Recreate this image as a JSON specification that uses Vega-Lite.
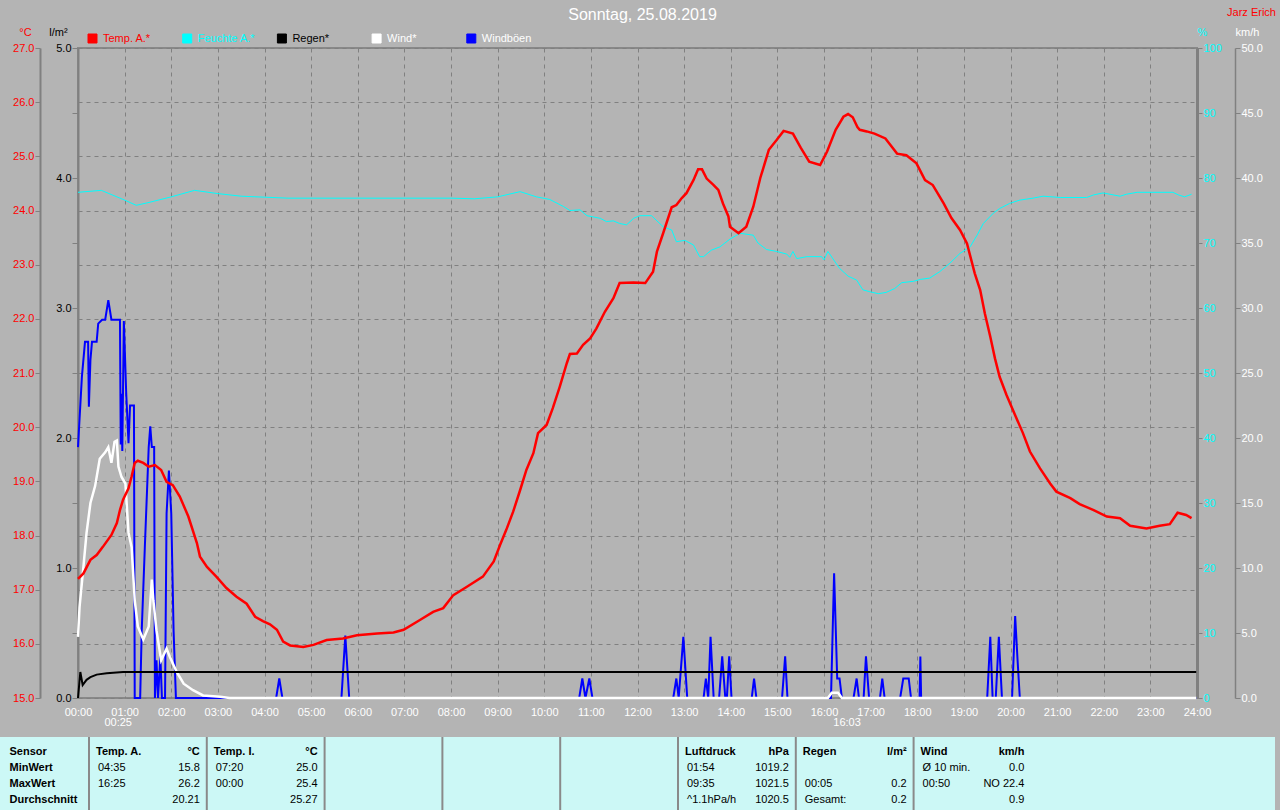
{
  "$schema": "https://vega.github.io/schema/vega-lite/v6.json",
  "autosize": {"type": "none"},
  "padding": {"left": 0, "top": 48, "right": 1280, "bottom": 762},
  "background": "#b4b4b4",
  "bounds": "flush",
  "center": true,
  "spacing": 39,
  "title": {"text": "Sonntag, 25.08.2019", "color": "#ffffff", "fontSize": 16, "fontWeight": "normal", "font": "Liberation Sans", "anchor": "middle", "frame": "bounds", "dx": 4, "dy": 17, "offset": 0},
  "config": {
    "font": "Liberation Sans",
    "axis": {"labelFont": "Liberation Sans", "labelFontSize": 11, "titleFont": "Liberation Sans", "titleFontSize": 11, "titleFontWeight": "normal", "tickColor": "#808080", "domainColor": "#808080", "gridColor": "#808080", "gridDash": [4, 4], "gridOpacity": 1, "labelOverlap": false, "labelPadding": 1, "labelFlush": false},
    "text": {"font": "Liberation Sans"}
  },
  "datasets": {
    "temp": [{"t":"00:00","v":17.2},{"t":"00:07","v":17.3},{"t":"00:16","v":17.55},{"t":"00:24","v":17.64},{"t":"00:32","v":17.79},{"t":"00:43","v":18.01},{"t":"00:50","v":18.23},{"t":"00:54","v":18.47},{"t":"00:58","v":18.66},{"t":"01:05","v":18.87},{"t":"01:09","v":19.09},{"t":"01:13","v":19.34},{"t":"01:17","v":19.38},{"t":"01:24","v":19.34},{"t":"01:31","v":19.27},{"t":"01:39","v":19.3},{"t":"01:47","v":19.21},{"t":"01:54","v":18.99},{"t":"02:02","v":18.93},{"t":"02:11","v":18.72},{"t":"02:22","v":18.35},{"t":"02:33","v":17.86},{"t":"02:37","v":17.61},{"t":"02:46","v":17.42},{"t":"02:58","v":17.24},{"t":"03:11","v":17.03},{"t":"03:24","v":16.87},{"t":"03:37","v":16.74},{"t":"03:48","v":16.5},{"t":"03:58","v":16.42},{"t":"04:07","v":16.36},{"t":"04:16","v":16.26},{"t":"04:24","v":16.04},{"t":"04:33","v":15.97},{"t":"04:50","v":15.94},{"t":"05:03","v":15.98},{"t":"05:20","v":16.07},{"t":"05:41","v":16.1},{"t":"05:59","v":16.16},{"t":"06:25","v":16.19},{"t":"06:46","v":16.21},{"t":"06:59","v":16.26},{"t":"07:20","v":16.44},{"t":"07:37","v":16.59},{"t":"07:50","v":16.66},{"t":"08:03","v":16.9},{"t":"08:20","v":17.05},{"t":"08:41","v":17.24},{"t":"08:55","v":17.52},{"t":"09:03","v":17.82},{"t":"09:11","v":18.1},{"t":"09:20","v":18.44},{"t":"09:29","v":18.84},{"t":"09:37","v":19.21},{"t":"09:46","v":19.52},{"t":"09:52","v":19.89},{"t":"10:03","v":20.04},{"t":"10:11","v":20.35},{"t":"10:20","v":20.75},{"t":"10:29","v":21.18},{"t":"10:33","v":21.35},{"t":"10:42","v":21.36},{"t":"10:50","v":21.52},{"t":"10:59","v":21.64},{"t":"11:07","v":21.82},{"t":"11:18","v":22.13},{"t":"11:29","v":22.38},{"t":"11:37","v":22.66},{"t":"11:55","v":22.67},{"t":"12:10","v":22.66},{"t":"12:20","v":22.87},{"t":"12:25","v":23.24},{"t":"12:33","v":23.58},{"t":"12:44","v":24.06},{"t":"12:50","v":24.1},{"t":"12:57","v":24.23},{"t":"13:03","v":24.32},{"t":"13:12","v":24.56},{"t":"13:18","v":24.76},{"t":"13:23","v":24.76},{"t":"13:29","v":24.59},{"t":"13:38","v":24.47},{"t":"13:44","v":24.38},{"t":"13:50","v":24.13},{"t":"13:57","v":23.89},{"t":"13:59","v":23.7},{"t":"14:10","v":23.58},{"t":"14:20","v":23.7},{"t":"14:29","v":24.07},{"t":"14:38","v":24.6},{"t":"14:49","v":25.12},{"t":"14:59","v":25.3},{"t":"15:08","v":25.47},{"t":"15:20","v":25.42},{"t":"15:30","v":25.16},{"t":"15:41","v":24.9},{"t":"15:55","v":24.84},{"t":"16:04","v":25.09},{"t":"16:15","v":25.49},{"t":"16:25","v":25.73},{"t":"16:31","v":25.78},{"t":"16:37","v":25.72},{"t":"16:43","v":25.54},{"t":"16:46","v":25.49},{"t":"16:55","v":25.46},{"t":"17:05","v":25.42},{"t":"17:19","v":25.33},{"t":"17:27","v":25.18},{"t":"17:34","v":25.05},{"t":"17:46","v":25.02},{"t":"17:59","v":24.87},{"t":"18:10","v":24.56},{"t":"18:20","v":24.47},{"t":"18:34","v":24.13},{"t":"18:44","v":23.86},{"t":"18:55","v":23.64},{"t":"19:04","v":23.39},{"t":"19:14","v":22.84},{"t":"19:21","v":22.53},{"t":"19:27","v":22.1},{"t":"19:34","v":21.67},{"t":"19:40","v":21.27},{"t":"19:46","v":20.93},{"t":"19:55","v":20.59},{"t":"20:06","v":20.22},{"t":"20:16","v":19.89},{"t":"20:25","v":19.55},{"t":"20:38","v":19.24},{"t":"20:51","v":18.96},{"t":"20:59","v":18.81},{"t":"21:17","v":18.69},{"t":"21:29","v":18.58},{"t":"21:47","v":18.47},{"t":"22:04","v":18.35},{"t":"22:21","v":18.32},{"t":"22:34","v":18.18},{"t":"22:55","v":18.13},{"t":"23:12","v":18.18},{"t":"23:25","v":18.21},{"t":"23:35","v":18.42},{"t":"23:46","v":18.38},{"t":"23:53","v":18.32}],
    "hum": [{"t":"00:00","v":77.8},{"t":"00:30","v":78.1},{"t":"01:00","v":76.6},{"t":"01:15","v":75.8},{"t":"01:30","v":76.2},{"t":"02:00","v":77.1},{"t":"02:30","v":78.1},{"t":"03:00","v":77.6},{"t":"03:30","v":77.2},{"t":"04:30","v":76.9},{"t":"06:00","v":76.9},{"t":"08:00","v":76.9},{"t":"08:30","v":76.8},{"t":"09:00","v":77.1},{"t":"09:29","v":77.9},{"t":"09:50","v":77.1},{"t":"10:07","v":76.7},{"t":"10:25","v":75.6},{"t":"10:33","v":75.0},{"t":"10:46","v":75.1},{"t":"10:55","v":74.2},{"t":"11:12","v":73.8},{"t":"11:20","v":73.3},{"t":"11:29","v":73.4},{"t":"11:37","v":73.0},{"t":"11:46","v":72.8},{"t":"11:55","v":73.8},{"t":"12:03","v":74.2},{"t":"12:18","v":74.2},{"t":"12:33","v":72.5},{"t":"12:44","v":72.0},{"t":"12:50","v":70.2},{"t":"13:01","v":70.4},{"t":"13:12","v":69.7},{"t":"13:20","v":67.9},{"t":"13:25","v":67.9},{"t":"13:35","v":68.9},{"t":"13:46","v":69.4},{"t":"13:59","v":70.6},{"t":"14:12","v":71.5},{"t":"14:29","v":71.2},{"t":"14:35","v":70.0},{"t":"14:46","v":69.0},{"t":"14:59","v":68.7},{"t":"15:12","v":68.3},{"t":"15:16","v":67.8},{"t":"15:20","v":68.7},{"t":"15:25","v":67.6},{"t":"15:38","v":67.9},{"t":"15:57","v":67.9},{"t":"16:00","v":67.4},{"t":"16:05","v":68.7},{"t":"16:20","v":66.1},{"t":"16:31","v":64.9},{"t":"16:42","v":64.3},{"t":"16:50","v":62.8},{"t":"16:59","v":62.5},{"t":"17:10","v":62.2},{"t":"17:20","v":62.4},{"t":"17:31","v":63.0},{"t":"17:40","v":63.9},{"t":"17:55","v":64.1},{"t":"18:04","v":64.4},{"t":"18:16","v":64.6},{"t":"18:29","v":65.6},{"t":"18:42","v":66.9},{"t":"18:55","v":68.4},{"t":"19:08","v":69.4},{"t":"19:17","v":71.2},{"t":"19:25","v":73.0},{"t":"19:38","v":74.6},{"t":"19:46","v":75.3},{"t":"19:59","v":76.1},{"t":"20:12","v":76.6},{"t":"20:29","v":76.9},{"t":"20:42","v":77.2},{"t":"21:04","v":77.0},{"t":"21:38","v":77.0},{"t":"21:47","v":77.4},{"t":"21:59","v":77.7},{"t":"22:08","v":77.5},{"t":"22:21","v":77.2},{"t":"22:29","v":77.5},{"t":"22:43","v":77.8},{"t":"23:29","v":77.8},{"t":"23:36","v":77.4},{"t":"23:44","v":77.1},{"t":"23:53","v":77.5}],
    "rain": [{"t":"00:00","v":0},{"t":"00:03","v":0.2},{"t":"00:06","v":0.1},{"t":"00:11","v":0.14},{"t":"00:16","v":0.16},{"t":"00:24","v":0.18},{"t":"00:37","v":0.19},{"t":"00:58","v":0.2},{"t":"23:59","v":0.2}],
    "wind": [{"t":"00:00","v":4.7},{"t":"00:02","v":7.0},{"t":"00:07","v":10.1},{"t":"00:11","v":12.7},{"t":"00:16","v":15.0},{"t":"00:22","v":16.3},{"t":"00:28","v":18.4},{"t":"00:35","v":18.9},{"t":"00:39","v":19.3},{"t":"00:43","v":18.1},{"t":"00:47","v":19.7},{"t":"00:50","v":19.8},{"t":"00:52","v":17.8},{"t":"00:56","v":17.0},{"t":"01:01","v":16.5},{"t":"01:05","v":12.7},{"t":"01:09","v":11.6},{"t":"01:13","v":7.5},{"t":"01:17","v":5.5},{"t":"01:24","v":4.5},{"t":"01:31","v":5.5},{"t":"01:35","v":9.1},{"t":"01:37","v":7.5},{"t":"01:41","v":5.2},{"t":"01:47","v":2.9},{"t":"01:54","v":3.8},{"t":"01:58","v":3.2},{"t":"02:07","v":2.0},{"t":"02:16","v":1.1},{"t":"02:28","v":0.6},{"t":"02:41","v":0.2},{"t":"03:03","v":0.1},{"t":"03:15","v":0},{"t":"16:05","v":0},{"t":"16:10","v":0.4},{"t":"16:18","v":0.4},{"t":"16:23","v":0},{"t":"23:59","v":0}],
    "gust": [{"t":"00:00","v":19.3},{"t":"00:01","v":20.4},{"t":"00:05","v":24.7},{"t":"00:09","v":27.4},{"t":"00:13","v":27.4},{"t":"00:14","v":22.4},{"t":"00:16","v":26.0},{"t":"00:18","v":27.4},{"t":"00:24","v":27.4},{"t":"00:26","v":28.8},{"t":"00:31","v":29.1},{"t":"00:35","v":29.1},{"t":"00:39","v":30.6},{"t":"00:43","v":29.1},{"t":"00:54","v":29.1},{"t":"00:55","v":19.5},{"t":"00:56","v":23.4},{"t":"00:57","v":19.0},{"t":"00:59","v":29.0},{"t":"01:02","v":23.5},{"t":"01:05","v":19.6},{"t":"01:07","v":22.5},{"t":"01:12","v":22.5},{"t":"01:13","v":0},{"t":"01:20","v":0},{"t":"01:22","v":5.2},{"t":"01:26","v":11.6},{"t":"01:31","v":19.3},{"t":"01:33","v":20.9},{"t":"01:35","v":19.3},{"t":"01:38","v":19.3},{"t":"01:39","v":0},{"t":"01:41","v":2.9},{"t":"01:43","v":0},{"t":"01:46","v":3.2},{"t":"01:48","v":0},{"t":"01:52","v":0},{"t":"01:54","v":14.2},{"t":"01:57","v":17.5},{"t":"02:00","v":14.2},{"t":"02:03","v":5.2},{"t":"02:06","v":0},{"t":"04:15","v":0},{"t":"04:19","v":1.5},{"t":"04:23","v":0},{"t":"05:39","v":0},{"t":"05:44","v":4.8},{"t":"05:49","v":0},{"t":"10:45","v":0},{"t":"10:49","v":1.5},{"t":"10:53","v":0},{"t":"10:58","v":1.5},{"t":"11:02","v":0},{"t":"12:46","v":0},{"t":"12:50","v":1.5},{"t":"12:53","v":0},{"t":"12:59","v":4.7},{"t":"13:04","v":0},{"t":"13:25","v":0},{"t":"13:28","v":1.5},{"t":"13:31","v":0},{"t":"13:34","v":4.7},{"t":"13:38","v":0},{"t":"13:45","v":0},{"t":"13:49","v":3.2},{"t":"13:53","v":0},{"t":"13:55","v":0},{"t":"13:58","v":3.2},{"t":"14:01","v":0},{"t":"14:27","v":0},{"t":"14:30","v":1.5},{"t":"14:33","v":0},{"t":"15:06","v":0},{"t":"15:10","v":3.2},{"t":"15:13","v":0},{"t":"16:09","v":0},{"t":"16:13","v":9.6},{"t":"16:17","v":1.5},{"t":"16:20","v":1.5},{"t":"16:23","v":0},{"t":"16:38","v":0},{"t":"16:42","v":1.5},{"t":"16:45","v":0},{"t":"16:51","v":0},{"t":"16:54","v":3.2},{"t":"16:58","v":0},{"t":"17:12","v":0},{"t":"17:15","v":1.5},{"t":"17:18","v":0},{"t":"17:38","v":0},{"t":"17:42","v":1.5},{"t":"17:49","v":1.5},{"t":"17:52","v":0},{"t":"18:03","v":0},{"t":"18:04","v":3.2},{"t":"18:05","v":0},{"t":"19:30","v":0},{"t":"19:34","v":4.7},{"t":"19:37","v":0},{"t":"19:41","v":0},{"t":"19:45","v":4.7},{"t":"19:49","v":0},{"t":"20:02","v":0},{"t":"20:06","v":6.3},{"t":"20:09","v":3.0},{"t":"20:12","v":0},{"t":"23:59","v":0}],
    "marks": [{"t":"00:25","label":"00:25"},{"t":"16:03","label":"16:03"}],
    "table": [
      {"row":"Sensor","col":"Temp. A.","left":"Temp. A.","right":"°C"},
      {"row":"Sensor","col":"Temp. I.","left":"Temp. I.","right":"°C"},
      {"row":"Sensor","col":"Luftdruck","left":"Luftdruck","right":"hPa"},
      {"row":"Sensor","col":"Regen","left":"Regen","right":"l/m²"},
      {"row":"Sensor","col":"Wind","left":"Wind","right":"km/h"},
      {"row":"MinWert","col":"Temp. A.","left":"04:35","right":"15.8"},
      {"row":"MinWert","col":"Temp. I.","left":"07:20","right":"25.0"},
      {"row":"MinWert","col":"Luftdruck","left":"01:54","right":"1019.2"},
      {"row":"MinWert","col":"Wind","left":"Ø 10 min.","right":"0.0"},
      {"row":"MaxWert","col":"Temp. A.","left":"16:25","right":"26.2"},
      {"row":"MaxWert","col":"Temp. I.","left":"00:00","right":"25.4"},
      {"row":"MaxWert","col":"Luftdruck","left":"09:35","right":"1021.5"},
      {"row":"MaxWert","col":"Regen","left":"00:05","right":"0.2"},
      {"row":"MaxWert","col":"Wind","left":"00:50","right":"NO 22.4"},
      {"row":"Durchschnitt","col":"Temp. A.","left":"","right":"20.21"},
      {"row":"Durchschnitt","col":"Temp. I.","left":"","right":"25.27"},
      {"row":"Durchschnitt","col":"Luftdruck","left":"^1.1hPa/h","right":"1020.5"},
      {"row":"Durchschnitt","col":"Regen","left":"Gesamt:","right":"0.2"},
      {"row":"Durchschnitt","col":"Wind","left":"","right":"0.9"}
    ],
    "seps": [{"col":"Temp. A."},{"col":"Temp. I."},{"col":"k3"},{"col":"k4"},{"col":"k5"},{"col":"Luftdruck"},{"col":"Regen"},{"col":"Wind"}]
  },
  "vconcat": [
    {
      "width": 1119,
      "height": 650,
      "view": {"stroke": "#888888", "strokeWidth": 2},
      "title": {"text": "Jarz Erich", "anchor": "end", "frame": "group", "color": "#ff0000", "fontSize": 11, "fontWeight": "normal", "font": "Liberation Sans", "dx": 79, "dy": -8, "offset": 0},
      "resolve": {"scale": {"y": "independent"}},
      "layer": [
        {
          "data": {"name": "hum", "format": {"parse": {"t": "utc:'%H:%M'"}}},
          "mark": {"type": "line", "strokeWidth": 1},
          "encoding": {
            "x": {"field": "t", "type": "temporal", "scale": {"type": "utc", "domain": [{"year": 1900, "month": 1, "date": 1, "hours": 0, "utc": true}, {"year": 1900, "month": 1, "date": 2, "hours": 0, "utc": true}]},
              "axis": {"title": null, "grid": true, "domain": false, "ticks": false, "tickSize": 0, "labelColor": "#ffffff", "labelPadding": 8, "labelFlush": false, "labelOverlap": false,
                "values": [{"year":1900,"month":1,"date":1,"hours":0,"utc":true},{"year":1900,"month":1,"date":1,"hours":1,"utc":true},{"year":1900,"month":1,"date":1,"hours":2,"utc":true},{"year":1900,"month":1,"date":1,"hours":3,"utc":true},{"year":1900,"month":1,"date":1,"hours":4,"utc":true},{"year":1900,"month":1,"date":1,"hours":5,"utc":true},{"year":1900,"month":1,"date":1,"hours":6,"utc":true},{"year":1900,"month":1,"date":1,"hours":7,"utc":true},{"year":1900,"month":1,"date":1,"hours":8,"utc":true},{"year":1900,"month":1,"date":1,"hours":9,"utc":true},{"year":1900,"month":1,"date":1,"hours":10,"utc":true},{"year":1900,"month":1,"date":1,"hours":11,"utc":true},{"year":1900,"month":1,"date":1,"hours":12,"utc":true},{"year":1900,"month":1,"date":1,"hours":13,"utc":true},{"year":1900,"month":1,"date":1,"hours":14,"utc":true},{"year":1900,"month":1,"date":1,"hours":15,"utc":true},{"year":1900,"month":1,"date":1,"hours":16,"utc":true},{"year":1900,"month":1,"date":1,"hours":17,"utc":true},{"year":1900,"month":1,"date":1,"hours":18,"utc":true},{"year":1900,"month":1,"date":1,"hours":19,"utc":true},{"year":1900,"month":1,"date":1,"hours":20,"utc":true},{"year":1900,"month":1,"date":1,"hours":21,"utc":true},{"year":1900,"month":1,"date":1,"hours":22,"utc":true},{"year":1900,"month":1,"date":1,"hours":23,"utc":true},{"year":1900,"month":1,"date":2,"hours":0,"utc":true}],
                "labelExpr": "datum.index == 1 ? '24:00' : utcFormat(datum.value, '%H:%M')"}},
            "y": {"field": "v", "type": "quantitative", "scale": {"domain": [0, 100], "nice": false, "zero": false},
              "axis": {"orient": "right", "offset": 0, "grid": false, "values": [0,10,20,30,40,50,60,70,80,90,100], "format": "d", "labelColor": "#00ffff", "tickSize": 5, "domainWidth": 3, "title": "%", "titleColor": "#00ffff", "titleAngle": 0, "titleAlign": "center", "titleBaseline": "middle", "titleX": 5, "titleY": -16}},
            "color": {"datum": "Feuchte A.*", "type": "nominal",
              "scale": {"domain": ["Temp. A.*", "Feuchte A.*", "Regen*", "Wind*", "Windböen"], "range": ["#ff0000", "#00ffff", "#000000", "#ffffff", "#0000ff"]},
              "legend": {"orient": "none", "legendX": 87, "legendY": -15, "direction": "horizontal", "title": null, "symbolType": "square", "symbolSize": 81, "symbolStrokeWidth": 1, "labelFontSize": 11, "labelFont": "Liberation Sans", "labelOffset": 5, "columnPadding": 19.7, "gridAlign": "all", "padding": 0,
                "encode": {"symbols": {"update": {"fill": {"scale": "color", "field": "value"}, "stroke": {"value": "#ffffff"}, "strokeWidth": {"value": 1}, "opacity": {"value": 1}}},
                           "labels": {"update": {"fill": {"signal": "datum.value === 'Temp. A.*' ? '#ff0000' : datum.value === 'Feuchte A.*' ? '#00ffff' : datum.value === 'Regen*' ? '#000000' : '#ffffff'"}}}}}}
          }
        },
        {
          "data": {"name": "gust", "format": {"parse": {"t": "utc:'%H:%M'"}}},
          "mark": {"type": "line", "strokeWidth": 2},
          "encoding": {
            "x": {"field": "t", "type": "temporal", "scale": {"type": "utc", "domain": [{"year": 1900, "month": 1, "date": 1, "hours": 0, "utc": true}, {"year": 1900, "month": 1, "date": 2, "hours": 0, "utc": true}]}},
            "y": {"field": "v", "type": "quantitative", "scale": {"domain": [0, 50], "nice": false}, "axis": null},
            "color": {"datum": "Windböen", "type": "nominal", "scale": {"domain": ["Temp. A.*", "Feuchte A.*", "Regen*", "Wind*", "Windböen"], "range": ["#ff0000", "#00ffff", "#000000", "#ffffff", "#0000ff"]}}
          }
        },
        {
          "data": {"name": "wind", "format": {"parse": {"t": "utc:'%H:%M'"}}},
          "mark": {"type": "line", "strokeWidth": 2.5},
          "encoding": {
            "x": {"field": "t", "type": "temporal", "scale": {"type": "utc", "domain": [{"year": 1900, "month": 1, "date": 1, "hours": 0, "utc": true}, {"year": 1900, "month": 1, "date": 2, "hours": 0, "utc": true}]}},
            "y": {"field": "v", "type": "quantitative", "scale": {"domain": [0, 50], "nice": false},
              "axis": {"orient": "right", "offset": 38, "grid": false, "values": [0,5,10,15,20,25,30,35,40,45,50], "format": ".1f", "labelColor": "#ffffff", "tickSize": 5, "domainWidth": 1.5, "title": "km/h", "titleColor": "#ffffff", "titleAngle": 0, "titleAlign": "center", "titleBaseline": "middle", "titleX": 12, "titleY": -16}},
            "color": {"datum": "Wind*", "type": "nominal", "scale": {"domain": ["Temp. A.*", "Feuchte A.*", "Regen*", "Wind*", "Windböen"], "range": ["#ff0000", "#00ffff", "#000000", "#ffffff", "#0000ff"]}}
          }
        },
        {
          "data": {"name": "rain", "format": {"parse": {"t": "utc:'%H:%M'"}}},
          "mark": {"type": "line", "strokeWidth": 2},
          "encoding": {
            "x": {"field": "t", "type": "temporal", "scale": {"type": "utc", "domain": [{"year": 1900, "month": 1, "date": 1, "hours": 0, "utc": true}, {"year": 1900, "month": 1, "date": 2, "hours": 0, "utc": true}]}},
            "y": {"field": "v", "type": "quantitative", "scale": {"domain": [0, 5], "nice": false},
              "axis": {"orient": "left", "offset": 0, "grid": false, "values": [0,0.5,1,1.5,2,2.5,3,3.5,4,4.5,5], "labelExpr": "datum.value % 1 === 0 ? format(datum.value, '.1f') : ''", "labelColor": "#000000", "tickSize": 6, "domainWidth": 2, "title": "l/m²", "titleColor": "#000000", "titleAngle": 0, "titleAlign": "center", "titleBaseline": "middle", "titleX": -20, "titleY": -16}},
            "color": {"datum": "Regen*", "type": "nominal", "scale": {"domain": ["Temp. A.*", "Feuchte A.*", "Regen*", "Wind*", "Windböen"], "range": ["#ff0000", "#00ffff", "#000000", "#ffffff", "#0000ff"]}}
          }
        },
        {
          "data": {"name": "temp", "format": {"parse": {"t": "utc:'%H:%M'"}}},
          "mark": {"type": "line", "strokeWidth": 2.5},
          "encoding": {
            "x": {"field": "t", "type": "temporal", "scale": {"type": "utc", "domain": [{"year": 1900, "month": 1, "date": 1, "hours": 0, "utc": true}, {"year": 1900, "month": 1, "date": 2, "hours": 0, "utc": true}]}},
            "y": {"field": "v", "type": "quantitative", "scale": {"domain": [15, 27], "nice": false, "zero": false},
              "axis": {"orient": "left", "offset": 38, "values": [15,16,17,18,19,20,21,22,23,24,25,26,27], "format": ".1f", "labelColor": "#ff0000", "tickSize": 5, "domainWidth": 2, "grid": true, "title": "°C", "titleColor": "#ff0000", "titleAngle": 0, "titleAlign": "center", "titleBaseline": "middle", "titleX": -15, "titleY": -16}},
            "color": {"datum": "Temp. A.*", "type": "nominal", "scale": {"domain": ["Temp. A.*", "Feuchte A.*", "Regen*", "Wind*", "Windböen"], "range": ["#ff0000", "#00ffff", "#000000", "#ffffff", "#0000ff"]}}
          }
        },
        {
          "mark": {"type": "rule", "color": "#000000", "strokeWidth": 2},
          "encoding": {"y": {"datum": 0, "type": "quantitative", "scale": {"domain": [0, 50], "nice": false}, "axis": null}}
        },
        {
          "mark": {"type": "rule", "color": "#ffffff", "strokeWidth": 1.5, "strokeDash": [1.5, 2]},
          "encoding": {"y": {"datum": 0, "type": "quantitative", "scale": {"domain": [0, 50], "nice": false}, "axis": null}}
        },
        {
          "data": {"name": "marks", "format": {"parse": {"t": "utc:'%H:%M'"}}},
          "mark": {"type": "text", "color": "#ffffff", "fontSize": 11, "align": "left", "baseline": "middle", "dx": 7, "dy": 25},
          "encoding": {
            "x": {"field": "t", "type": "temporal", "scale": {"type": "utc", "domain": [{"year": 1900, "month": 1, "date": 1, "hours": 0, "utc": true}, {"year": 1900, "month": 1, "date": 2, "hours": 0, "utc": true}]}},
            "y": {"datum": 0, "type": "quantitative", "scale": {"domain": [0, 50], "nice": false}, "axis": null},
            "text": {"field": "label", "type": "nominal"}
          }
        }
      ]
    },
    {
      "width": 1275,
      "height": 73,
      "view": {"fill": "#ccf8f6", "stroke": null},
      "layer": [
        {
          "data": {"name": "seps"},
          "mark": {"type": "rule", "color": "#8a8a8a", "strokeWidth": 2},
          "encoding": {
            "x": {"field": "col", "type": "nominal", "bandPosition": 0, "scale": {"type": "band", "domain": ["Temp. A.", "Temp. I.", "k3", "k4", "k5", "Luftdruck", "Regen", "Wind", "k9", "k10"], "paddingInner": 0, "paddingOuter": 0.4117, "align": 0.9175}, "axis": null}
          }
        },
        {
          "data": {"name": "table"},
          "transform": [{"filter": "datum.row === 'Sensor'"}],
          "mark": {"type": "text", "align": "left", "baseline": "middle", "dx": 7, "fontSize": 11, "fontWeight": "bold", "color": "#000000"},
          "encoding": {
            "x": {"field": "col", "type": "nominal", "bandPosition": 0, "scale": {"type": "band", "domain": ["Temp. A.", "Temp. I.", "k3", "k4", "k5", "Luftdruck", "Regen", "Wind", "k9", "k10"], "paddingInner": 0, "paddingOuter": 0.4117, "align": 0.9175}, "axis": null},
            "y": {"field": "row", "type": "nominal", "scale": {"type": "band", "domain": ["Sensor", "MinWert", "MaxWert", "Durchschnitt"], "paddingInner": 0, "paddingOuter": 0.28, "align": 0.74},
              "axis": {"orient": "left", "offset": -9, "domain": false, "ticks": false, "tickSize": 0, "labelAlign": "left", "labelPadding": 0, "labelFontWeight": "bold", "labelFontSize": 11, "labelColor": "#000000", "title": null, "grid": false}},
            "text": {"field": "left", "type": "nominal"}
          }
        },
        {
          "data": {"name": "table"},
          "transform": [{"filter": "datum.row === 'Sensor'"}],
          "mark": {"type": "text", "align": "right", "baseline": "middle", "dx": -7, "fontSize": 11, "fontWeight": "bold", "color": "#000000"},
          "encoding": {
            "x": {"field": "col", "type": "nominal", "bandPosition": 1, "scale": {"type": "band", "domain": ["Temp. A.", "Temp. I.", "k3", "k4", "k5", "Luftdruck", "Regen", "Wind", "k9", "k10"], "paddingInner": 0, "paddingOuter": 0.4117, "align": 0.9175}, "axis": null},
            "y": {"field": "row", "type": "nominal", "scale": {"type": "band", "domain": ["Sensor", "MinWert", "MaxWert", "Durchschnitt"], "paddingInner": 0, "paddingOuter": 0.28, "align": 0.74}},
            "text": {"field": "right", "type": "nominal"}
          }
        },
        {
          "data": {"name": "table"},
          "transform": [{"filter": "datum.row !== 'Sensor'"}],
          "mark": {"type": "text", "align": "left", "baseline": "middle", "dx": 9, "fontSize": 11, "color": "#000000"},
          "encoding": {
            "x": {"field": "col", "type": "nominal", "bandPosition": 0, "scale": {"type": "band", "domain": ["Temp. A.", "Temp. I.", "k3", "k4", "k5", "Luftdruck", "Regen", "Wind", "k9", "k10"], "paddingInner": 0, "paddingOuter": 0.4117, "align": 0.9175}, "axis": null},
            "y": {"field": "row", "type": "nominal", "scale": {"type": "band", "domain": ["Sensor", "MinWert", "MaxWert", "Durchschnitt"], "paddingInner": 0, "paddingOuter": 0.28, "align": 0.74}},
            "text": {"field": "left", "type": "nominal"}
          }
        },
        {
          "data": {"name": "table"},
          "transform": [{"filter": "datum.row !== 'Sensor'"}],
          "mark": {"type": "text", "align": "right", "baseline": "middle", "dx": -7, "fontSize": 11, "color": "#000000"},
          "encoding": {
            "x": {"field": "col", "type": "nominal", "bandPosition": 1, "scale": {"type": "band", "domain": ["Temp. A.", "Temp. I.", "k3", "k4", "k5", "Luftdruck", "Regen", "Wind", "k9", "k10"], "paddingInner": 0, "paddingOuter": 0.4117, "align": 0.9175}, "axis": null},
            "y": {"field": "row", "type": "nominal", "scale": {"type": "band", "domain": ["Sensor", "MinWert", "MaxWert", "Durchschnitt"], "paddingInner": 0, "paddingOuter": 0.28, "align": 0.74}},
            "text": {"field": "right", "type": "nominal"}
          }
        }
      ]
    }
  ]
}
